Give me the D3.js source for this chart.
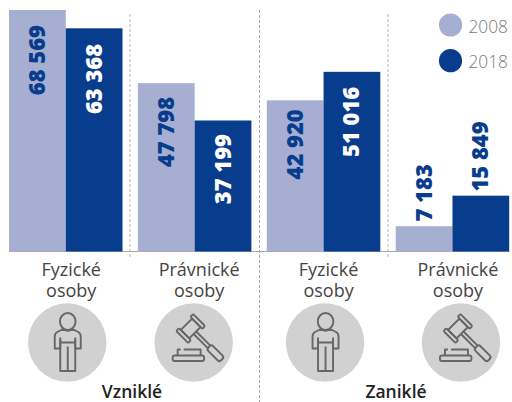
<!DOCTYPE html>
<html><head><meta charset="utf-8">
<script src="https://cdn.jsdelivr.net/npm/d3@7"></script>
<style>html,body{margin:0;padding:0;background:#fff}svg{display:block}text{font-family:"Open Sans",sans-serif}</style>
</head><body><svg id="c" width="512" height="402"></svg>
<script>
const categories = ["Fyzické osoby V","Právnické osoby V","Fyzické osoby Z","Právnické osoby Z"];
const catLines = [["Fyzické","osoby"],["Právnické","osoby"],["Fyzické","osoby"],["Právnické","osoby"]];
const icons = ["person","gavel","person","gavel"];
const years = ["2008","2018"];
const values2008 = [68569,47798,42920,7183];
const values2018 = [63368,37199,51016,15849];
const groupNames = ["Vzniklé","Zaniklé"];
const colors = {"2008":"#a6aed1","2018":"#083c8c"};
const labelColors = {"2008":"#083c8c","2018":"#ffffff"};
// layout tweaks
const labelGap = {"2008":[15,13.7,9,-62],"2018":[15.6,13.5,15,-74.3]};
const labelDx = [5.5,4.5,5,5.5];
const iconDx = [1.5,-1,1.5,8.5];
const groupX = [132,396];
const sepX = [130,259.5,388];
const fmt = v => d3.format(",")(v).replace(/,/g," ");

const svg = d3.select("#c");
const x0 = d3.scaleBand().domain(categories).range([9,9+4*128.9]);
const x1 = d3.scaleBand().domain(years).range([0,113.5]);
const y = d3.scaleLinear().domain([0,68569]).range([251.5,10]);
const barMid = x1.range()[1]/2;

// dashed separators
sepX.forEach((xx,i)=>{
  svg.append("line").attr("x1",xx).attr("x2",xx)
    .attr("y1",i===1?10:14).attr("y2",i===1?402:257)
    .attr("stroke",i===1?"#a0a0a0":"#b8b8b8").attr("stroke-width",1).attr("stroke-dasharray","3 2");
});

// baseline
svg.append("line").attr("x1",9).attr("x2",509.5).attr("y1",251.5).attr("y2",251.5).attr("stroke","#a8a8a8").attr("stroke-width",1.2);

const rows = categories.map((c,i)=>({c,i,vals:[
  {yr:"2008",v:values2008[i],gap:labelGap["2008"][i]},
  {yr:"2018",v:values2018[i],gap:labelGap["2018"][i]}]}));
const g = svg.selectAll("g.cat").data(rows).join("g").attr("class","cat")
  .attr("transform",d=>`translate(${x0(d.c)},0)`);
g.selectAll("rect").data(d=>d.vals).join("rect")
  .attr("x",d=>x1(d.yr)).attr("width",x1.bandwidth())
  .attr("y",d=>y(d.v)).attr("height",d=>y(0)-y(d.v))
  .attr("fill",d=>colors[d.yr]);
g.selectAll("text.v").data(d=>d.vals).join("text").attr("class","v")
  .attr("transform",d=>`translate(${x1(d.yr)+x1.bandwidth()/2+7.5},${y(d.v)+d.gap}) rotate(-90)`)
  .attr("text-anchor","end")
  .attr("font-weight",800).attr("font-size",22)
  .attr("fill",d=>d.gap<0?"#083c8c":labelColors[d.yr])
  .text(d=>fmt(d.v));

// category labels + icons
g.each(function(d){
  const s=d3.select(this);
  catLines[d.i].forEach((t,k)=>s.append("text").attr("x",barMid+labelDx[d.i]).attr("y",276+k*21)
    .attr("text-anchor","middle").attr("font-size",18).attr("fill","#444").text(t));
  const ic=s.append("g").attr("transform",`translate(${barMid+iconDx[d.i]},342.5)`);
  ic.append("circle").attr("r",39.2).attr("fill","#d1d1d1");
  const st=ic.append("g").attr("fill","none").attr("stroke","#676767").attr("stroke-width",1.9).attr("stroke-linejoin","round");
  if(icons[d.i]==="person"){
    st.append("ellipse").attr("cx",0.5).attr("cy",-21).attr("rx",7.8).attr("ry",8.5);
    st.append("path").attr("d","M-4,-13.5 Q0.5,-10 5,-13.5 L11,-10.5 Q13.5,-9 13.5,-6 L13.5,6 L8,6 L8,-3 M-4,-13.5 L-10,-10.5 Q-12.5,-9 -12.5,-6 L-12.5,6 L-7,6 L-7,-3");
    st.append("path").attr("d","M-7,-5 L-7,28.5 L8,28.5 L8,-5 M-7,0 L8,0 M0.5,4 L0.5,28.5");
  } else {
    const h=st.append("g").attr("transform","translate(-3,-14) rotate(-45)");
    h.append("path").attr("d","M-8,-6 H8 V6 H-8 Z");
    h.append("rect").attr("x",-12).attr("y",-8.5).attr("width",4).attr("height",17).attr("rx",1.5);
    h.append("rect").attr("x",8).attr("y",-8.5).attr("width",4).attr("height",17).attr("rx",1.5);
    h.append("path").attr("d","M-1.8,6 V26 M1.8,6 V26");
    h.append("rect").attr("x",-3.4).attr("y",26).attr("width",6.8).attr("height",18).attr("rx",2.5);
    st.append("path").attr("d","M-16,13 V7 H-13 M-10,7 H7 V13");
    st.append("rect").attr("x",-21).attr("y",13).attr("width",31.5).attr("height",5.5).attr("rx",2);
  }
});

// group labels
groupNames.forEach((n,i)=>{
  svg.append("text").attr("x",groupX[i]).attr("y",397.5)
    .attr("text-anchor","middle").attr("font-weight",600).attr("font-size",17.5).attr("fill","#222").text(n);
});

// legend
years.forEach((yr,i)=>{
  svg.append("circle").attr("cx",450.5).attr("cy",25+i*35.7).attr("r",11.6).attr("fill",colors[yr]);
  svg.append("text").attr("x",468.5).attr("y",32.5+i*35.7).attr("font-size",18).attr("font-weight",300)
    .attr("textLength",39.5).attr("lengthAdjust","spacingAndGlyphs").attr("fill","#7a7a7a").text(yr);
});
</script></body></html>
